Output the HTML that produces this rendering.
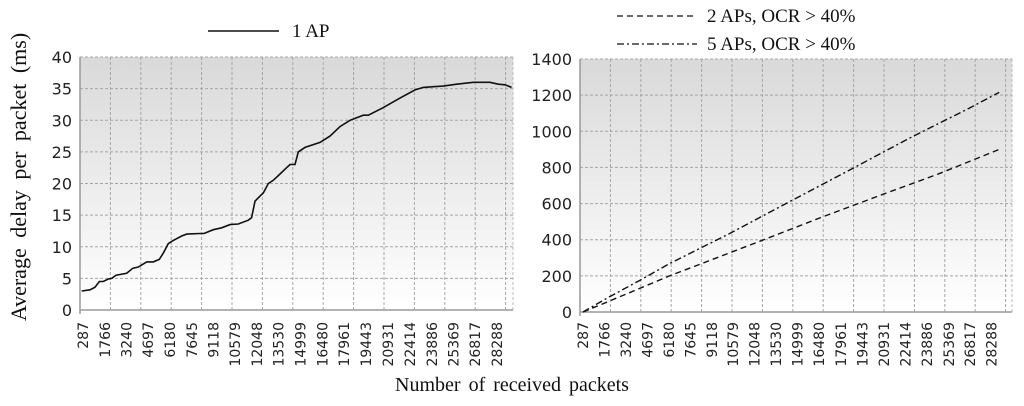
<!DOCTYPE html>
<html><head><meta charset="utf-8"><style>
body{margin:0;background:#fff;width:1024px;height:406px;overflow:hidden}
svg{display:block}
.tk{font-family:"DejaVu Sans","Liberation Sans",sans-serif;font-size:14px;fill:#222}
.yt{font-family:"DejaVu Sans","Liberation Sans",sans-serif;font-size:16px;fill:#222}
.ser{font-family:"Liberation Serif",serif;font-size:19px;fill:#111}
</style></head><body>
<svg id="c" width="1024" height="406">
<defs><linearGradient id="g" x1="0" y1="0" x2="0" y2="1"><stop offset="0" stop-color="#d9d9d9"/><stop offset="1" stop-color="#ffffff"/></linearGradient></defs>
<text class="ser" x="0" y="0" style="font-size:22px;word-spacing:5px" transform="translate(26,177) rotate(-90)" text-anchor="middle">Average delay per packet (ms)</text>
<text class="ser" x="512" y="391" style="font-size:20px;word-spacing:3px" text-anchor="middle">Number of received packets</text>
<g>
<line x1="208" y1="31" x2="279" y2="31" stroke="#111" stroke-width="1.6"/>
<text class="ser" x="292" y="37">1 AP</text></g>
<g>
<line x1="617" y1="16" x2="697" y2="16" stroke="#111" stroke-width="1.3" stroke-dasharray="6,4"/>
<text class="ser" x="707" y="22">2 APs, OCR &gt; 40%</text>
<line x1="617" y1="44" x2="697" y2="44" stroke="#111" stroke-width="1.3" stroke-dasharray="7,3,2,3"/>
<text class="ser" x="707" y="50">5 APs, OCR &gt; 40%</text></g>
</svg>
<script>
const tickLabels=[287,1766,3240,4697,6180,7645,9118,10579,12048,13530,14999,16480,17961,19443,20931,22414,23886,25369,26817,28288];
const leftTicks=[0,5,10,15,20,25,30,35,40];
const rightTicks=[0,200,400,600,800,1000,1200,1400];
const ap1X=[197,761,1099,1392,1663,2001,2226,2519,3241,3647,4030,4594,5045,5451,5722,6060,6398,6962,7300,8202,8473,9104,9668,10231,10795,11472,11697,11923,12261,12487,12825,13163,13614,14065,14290,14629,14854,15305,16320,16997,17673,18350,18913,19251,19590,20604,21732,22747,23310,23987,24664,25566,26693,27821,28385,28836,29287];
const ap1Y=[3.0,3.2,3.6,4.5,4.5,4.9,5.0,5.5,5.8,6.6,6.8,7.6,7.6,8.0,9.0,10.5,11.0,11.7,12.0,12.1,12.1,12.7,13.0,13.5,13.6,14.2,14.6,17.2,18.0,18.5,20.0,20.5,21.5,22.5,23.0,23.0,25.0,25.7,26.5,27.5,29.0,30.0,30.5,30.8,30.8,32.0,33.5,34.8,35.2,35.3,35.4,35.7,36.0,36.0,35.7,35.6,35.2];
const ap2X=[287,2077,6218,12372,16512,20653,24681,28821];
const ap2Y=[0,60,200,390,520,645,765,900];
const ap5X=[287,2077,4204,6218,10358,14431,18572,22667,26763,28821];
const ap5Y=[0,83,176,268,435,610,786,962,1128,1215];
const NS='http://www.w3.org/2000/svg';
const svg=document.getElementById('c');
function mk(t,a,p){const e=document.createElementNS(NS,t);for(const k in a)e.setAttribute(k,a[k]);(p||svg).appendChild(e);return e;}
function panel(name,L,R,T,B,x0,x1,ymax,yt,seriesList){
  const g=mk('g',{});
  
  
  const sx=v=>L+(v-x0)/(x1-x0)*(R-L);
  const sy=v=>B-v/ymax*(B-T);
  const bg=mk('rect',{x:L,y:T,width:R-L,height:B-T,fill:'url(#g)'},g);
  
  
  yt.forEach(v=>{
    if(v>0)mk('line',{x1:L,x2:R,y1:sy(v),y2:sy(v),stroke:'#a6a6a6','stroke-dasharray':'3,2','stroke-width':1},g);
    const t=mk('text',{x:L-8,y:sy(v)+6,'text-anchor':'end',class:'yt'},g);t.textContent=v;
    
    
  });
  for(let x=L+30.4;x<=R+1;x+=30.4)mk('line',{x1:x,x2:x,y1:T,y2:B,stroke:'#a6a6a6','stroke-dasharray':'3,2','stroke-width':1},g);
  mk('line',{x1:R,x2:R,y1:T,y2:B,stroke:'#bbb','stroke-dasharray':'3,2'},g);
  mk('line',{x1:L,x2:L,y1:T,y2:B+4,stroke:'#999','stroke-width':1.5},g);
  mk('line',{x1:L,x2:R,y1:B,y2:B,stroke:'#999','stroke-width':1.5},g);
  tickLabels.forEach(v=>{
    const x=sx(v);
    const t=mk('text',{x:0,y:0,transform:`translate(${x+5},322) rotate(-90)`,'text-anchor':'end',class:'tk'},g);t.textContent=v;
    
    
  });
  seriesList.forEach(s=>{
    const d=s.xs.map((v,i)=>(i?'L':'M')+sx(v).toFixed(1)+','+sy(s.ys[i]).toFixed(1)).join('');
    const p=mk('path',{d:d,fill:'none',stroke:'#111','stroke-width':s.w,'stroke-dasharray':s.dash||'none'},g);
    
    
  });
}
panel('left-panel',80,513,57,310,84,29380,40,leftTicks,[{xs:ap1X,ys:ap1Y,w:1.6,name:'line-1-ap'}]);
panel('right-panel',580,1012,59,312,84,29700,1400,rightTicks,[
 {xs:ap2X,ys:ap2Y,w:1.4,dash:'6,4',name:'line-2-aps'},
 {xs:ap5X,ys:ap5Y,w:1.4,dash:'7,3,2,3',name:'line-5-aps'}]);
</script>
</body></html>
